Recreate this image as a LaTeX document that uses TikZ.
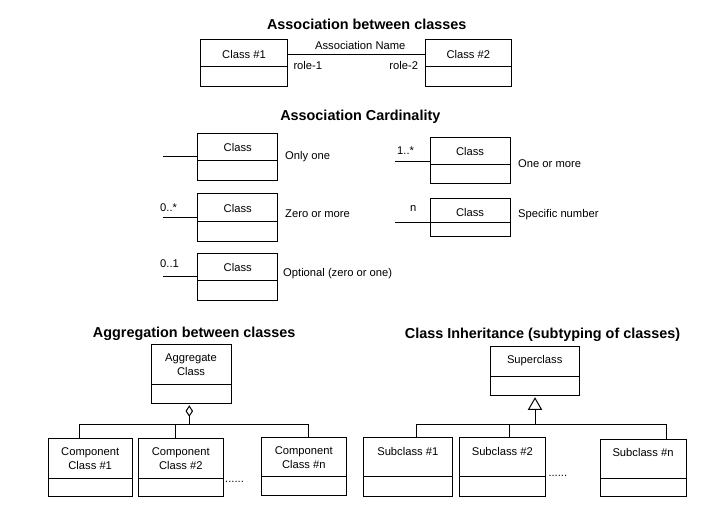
\documentclass[tikz,border=0pt]{standalone}
\usepackage{fontspec}
\setmainfont{Liberation Sans}
\usetikzlibrary{arrows.meta}
\newcommand\umlclass[6]{%
  \node[umlbox, minimum width={#4-#2}, minimum height={#5-#3}] (#1) at ({(#2+#4)/2},{(#3+#5)/2}) {};
  \draw[conn] (#2,#6) -- (#4,#6);}
\begin{document}
\begin{tikzpicture}[x=1pt,y=-1pt,
  umlbox/.style={draw, line width=1pt, inner sep=0pt, outer sep=0pt},
  conn/.style={line width=1pt},
  txt/.style={font=\fontsize{11.2}{13.5}\selectfont, inner sep=0pt, text height=8pt, text depth=0pt},
  txtb/.style={font=\fontsize{11.2}{13.5}\selectfont, inner sep=0pt, align=center},
  ttl/.style={font=\bfseries\fontsize{14.4}{17}\selectfont, inner sep=0pt, text height=10.3pt, text depth=0pt}]
\fill[white] (0,0) rectangle (706,518);
\useasboundingbox (0,0) rectangle (706,518);

% ---- Association between classes
\node[ttl] (t1) at (366.7,24.5) {Association between classes};
\umlclass{c1}{200.7}{40}{287.3}{87}{67}
\umlclass{c2}{425}{40}{511.7}{87}{67}
\node[txt] (c1t) at (244,54.5) {Class \#1};
\node[txt] (c2t) at (468.3,54.5) {Class \#2};
\draw[conn] ([yshift=8.5pt]c1.east) -- ([yshift=8.5pt]c2.west);
\node[txt] (an) at (360.3,46) {Association Name};
\node[txt, anchor=west] (r1) at (293.3,65.8) {role-1};
\node[txt, anchor=east] (r2) at (418.3,65.8) {role-2};

% ---- Association Cardinality
\node[ttl] (t2) at (360.3,115.5) {Association Cardinality};
\umlclass{k1}{197.7}{133.3}{277.7}{181}{161}
\umlclass{k2}{197.7}{194}{277.7}{241.7}{221.7}
\umlclass{k3}{197.7}{253.3}{277.7}{301}{281}
\umlclass{k4}{430}{137.3}{510}{184}{165}
\umlclass{k5}{430}{198.3}{510}{236.7}{222.7}
\node[txt] (k1t) at (237.7,147.8) {Class};
\node[txt] (k2t) at (237.7,208.8) {Class};
\node[txt] (k3t) at (237.7,267.5) {Class};
\node[txt] (k4t) at (470,151.7) {Class};
\node[txt] (k5t) at (470,212.5) {Class};
\coordinate (f1) at (162.7,157);
\coordinate (f2) at (162.7,218);
\coordinate (f3) at (162.7,276.5);
\coordinate (f4) at (395,161.7);
\coordinate (f5) at (395,222.7);
\draw[conn] (f1) -- (f1 -| k1.west);
\draw[conn] (f2) -- (f2 -| k2.west);
\draw[conn] (f3) -- (f3 -| k3.west);
\draw[conn] (f4) -- (f4 -| k4.west);
\draw[conn] (f5) -- (f5 -| k5.west);
\node[txt, anchor=west] (l1) at (285,155.5) {Only one};
\node[txt, anchor=west] (l2) at (285,213.7) {Zero or more};
\node[txt, anchor=west] (l3) at (283,273) {Optional (zero or one)};
\node[txt, anchor=west] (l4) at (518,164) {One or more};
\node[txt, anchor=west] (l5) at (518,213.7) {Specific number};
\node[txt, anchor=west] (m2) at (160,208) {0..*};
\node[txt, anchor=west] (m3) at (160,264) {0..1};
\node[txt, anchor=west] (m4) at (397,151) {1..*};
\node[txt, anchor=west] (m5) at (410,207.5) {n};

% ---- Aggregation between classes
\node[ttl] (t3) at (194.2,332) {Aggregation between classes};
\umlclass{agg}{151}{344}{231}{403.3}{384}
\node[txtb] (aggt) at (191,364.5) {Aggregate\\Class};
\umlclass{cp1}{48}{438.3}{132.3}{496.7}{478.3}
\umlclass{cp2}{138.3}{438.3}{223.3}{496.7}{478.3}
\umlclass{cpn}{261.7}{437.3}{346}{495.7}{476.7}
\node[txtb] (cp1t) at (90.2,458.7) {Component\\Class \#1};
\node[txtb] (cp2t) at (180.8,458.7) {Component\\Class \#2};
\node[txtb] (cpnt) at (303.8,457.4) {Component\\Class \#n};
\coordinate (ja) at (189.3,424.3);
\coordinate (d1) at (79.3,424.3);
\coordinate (d2) at (175.3,424.3);
\coordinate (d3) at (308.7,424.3);
\draw[conn, shorten >=2pt, -{Diamond[open,length=11.5pt,width=7.5pt,line width=1pt]}] (ja) -- (ja |- agg.south);
\draw[conn] (d1) -- (d3);
\draw[conn] (d1) -- (d1 |- cp1.north);
\draw[conn] (d2) -- (d2 |- cp2.north);
\draw[conn] (d3) -- (d3 |- cpn.north);
\node[txt, anchor=base west] (dots1) at (225,482.5) {......};

% ---- Class Inheritance
\node[ttl] (t4) at (542.5,333.3) {Class Inheritance (subtyping of classes)};
\umlclass{sup}{490}{346.7}{579.3}{395.7}{376}
\node[txt] (supt) at (534.7,359.3) {Superclass};
\umlclass{sb1}{363.3}{437.7}{452.3}{496}{476.7}
\umlclass{sb2}{459}{437.7}{545.7}{496}{476.7}
\umlclass{sbn}{600}{439}{686}{496.7}{478.3}
\node[txt] (sb1t) at (407.8,451.7) {Subclass \#1};
\node[txt] (sb2t) at (502.3,451.3) {Subclass \#2};
\node[txt] (sbnt) at (643,452.7) {Subclass \#n};
\coordinate (ji) at (535,424);
\coordinate (e1) at (416,424);
\coordinate (e2) at (509.3,424);
\coordinate (e3) at (666.7,424);
\draw[conn, shorten >=1.5pt, -{Triangle[open,length=12.7pt,width=14.3pt,line width=1pt]}] (ji) -- (ji |- sup.south);
\draw[conn] (e1) -- (e3);
\draw[conn] (e1) -- (e1 |- sb1.north);
\draw[conn] (e2) -- (e2 |- sb2.north);
\draw[conn] (e3) -- (e3 |- sbn.north);
\node[txt, anchor=base west] (dots2) at (548.3,476) {......};
\end{tikzpicture}
\end{document}
